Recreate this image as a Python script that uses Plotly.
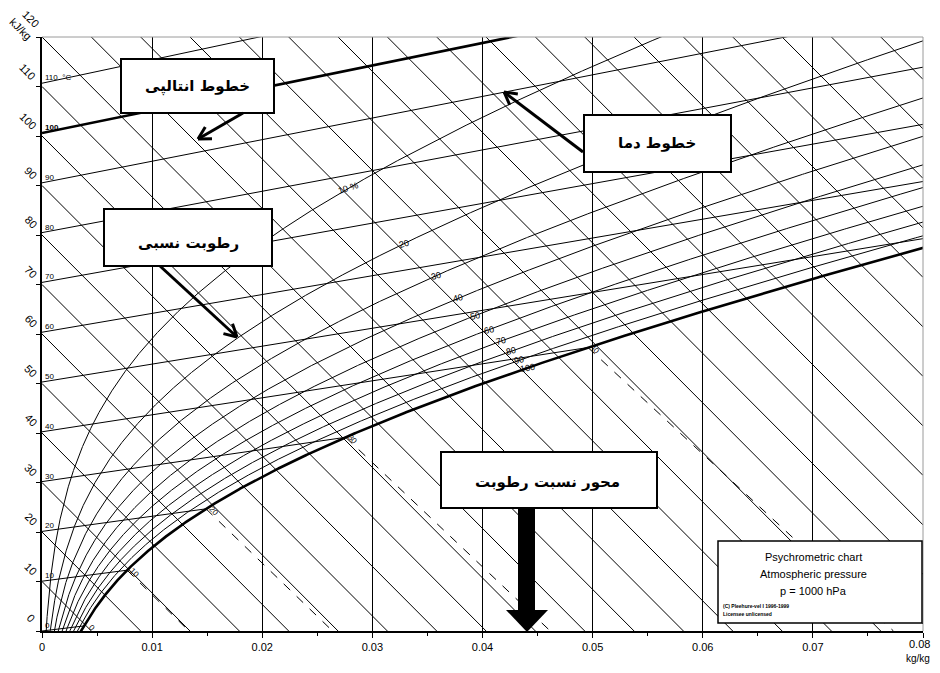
import numpy as np
import plotly.graph_objects as go

# ---------------- chart parameters ----------------
PRESSURE_HPA = 1000.0          # p = 1000 hPa
SKEW = 2232.0                  # ordinate = h - SKEW * x  (Mollier skew)

isotherm_temps = [0, 10, 20, 30, 40, 50, 60, 70, 80, 90, 100, 110]
isotherm_labels = ["0", "10", "20", "30", "40", "50", "60", "70", "80", "90", "100", "110  °C"]
bold_isotherm = 100
rh_levels = [10, 20, 30, 40, 50, 60, 70, 80, 90]
rh_labels = ["10 %", "20", "30", "40", "50", "60", "70", "80", "90", "100"]
rh_label_enthalpy = 151.5
enthalpy_levels = [10, 20, 30, 40, 50, 60, 70, 80, 90, 100, 110, 120, 130, 140, 150,
                   160, 170, 180, 190, 200, 210, 220, 230, 240, 250, 260, 270, 280, 290]
fog_temps = [10, 20, 30, 40]
sat_label_temps = [0, 10, 20, 30, 40]
sat_labels = ["0", "10", "20", "30", "40"]

x_tickvals = [0, 0.01, 0.02, 0.03, 0.04, 0.05, 0.06, 0.07, 0.08]
x_ticktext = ["0", "0.01", "0.02", "0.03", "0.04", "0.05", "0.06", "0.07", "0.08"]
x_minor = [0.005, 0.015, 0.025, 0.035, 0.045, 0.055, 0.065, 0.075]
y_tickvals = [0, 10, 20, 30, 40, 50, 60, 70, 80, 90, 100, 110, 120]
y_ticktext = ["0", "10", "20", "30", "40", "50", "60", "70", "80", "90", "100", "110", "120<br>kJ/kg"]

XMAX, YMAX = 0.08, 120.0

# ---------------- layout geometry ----------------
# the page body has an 8 px margin on every side; the figure is made 16 px smaller
# than the window so that it fits exactly, and window pixels are mapped with that offset.
OFF = 8
WIN_W, WIN_H = 940, 673
W, H = WIN_W - 2 * OFF, WIN_H - 2 * OFF
PL, PR, PT, PB = 42, 923, 37, 631          # plot area in window pixels
ML, MT = PL - OFF, PT - OFF
MR, MB = W - (PR - OFF), H - (PB - OFF)
PW, PH = PR - PL, PB - PT


def px2paper(px, py):
    return (px - PL) / PW, (PB - py) / PH


def data2px(x, y):
    return PL + x / XMAX * PW, PB - y / YMAX * PH


# ---------------- psychrometrics ----------------
def p_sat(t):
    t = np.asarray(t, dtype=float)
    water = 6.1121 * np.exp((18.678 - t / 234.5) * (t / (257.14 + t)))
    ice = 6.1115 * np.exp((23.036 - t / 333.7) * (t / (279.82 + t)))
    return np.where(t >= 0, water, ice)


def hum_ratio(pv):
    return 0.622 * pv / (PRESSURE_HPA - pv)


def enthalpy(t, x):
    return 1.006 * t + x * (2501.0 + 1.86 * t)


def ordinate(t, x):
    return enthalpy(t, x) - SKEW * x


fig = go.Figure()


def add_line(x, y, width=1, dash="solid"):
    fig.add_trace(go.Scatter(x=list(x), y=list(y), mode="lines",
                             line=dict(color="black", width=width, dash=dash),
                             hoverinfo="skip", showlegend=False))


# isenthalps
for h in enthalpy_levels:
    xs = np.array([0.0, XMAX])
    add_line(xs, h - SKEW * xs)

# isotherms (unsaturated part)
for t in isotherm_temps:
    ps = float(p_sat(t))
    x_end = XMAX
    if ps < PRESSURE_HPA:
        x_end = min(XMAX, hum_ratio(ps))
    xs = np.array([0.0, x_end])
    add_line(xs, ordinate(t, xs), width=2.6 if t == bold_isotherm else 1)

# fog isotherms (dashed)
for t in fog_temps:
    xs0 = float(hum_ratio(p_sat(t)))
    y0 = float(ordinate(t, xs0))
    slope = 4.19 * t - SKEW
    x1 = min(XMAX, xs0 + y0 / (-slope))
    add_line([xs0, x1], [y0, y0 + slope * (x1 - xs0)], dash="dash")

# relative humidity curves
t_grid = np.arange(-4.0, 99.95, 0.05)
ps_grid = p_sat(t_grid)
rh_curves = []
for phi in rh_levels + [100]:
    pv = phi / 100.0 * ps_grid
    ok = pv < 0.97 * PRESSURE_HPA
    tt = t_grid[ok]
    xx = hum_ratio(pv[ok])
    yy = ordinate(tt, xx)
    keep = (xx <= 0.0805) & (yy <= 122)
    tt, xx, yy = tt[keep], xx[keep], yy[keep]
    rh_curves.append((tt, xx, yy))
    add_line(xx, yy, width=2.6 if phi == 100 else 1)

annotations = []

# RH labels along an isenthalp
for (tt, xx, yy), lab in zip(rh_curves, rh_labels):
    hh = enthalpy(tt, xx)
    i = int(np.searchsorted(hh, rh_label_enthalpy))
    i = max(1, min(i, len(hh) - 2))
    xl = float(np.interp(rh_label_enthalpy, hh, xx))
    yl = float(np.interp(rh_label_enthalpy, hh, yy))
    p0 = data2px(xx[i - 1], yy[i - 1])
    p1 = data2px(xx[i + 1], yy[i + 1])
    ang = np.degrees(np.arctan2(p1[1] - p0[1], p1[0] - p0[0]))
    annotations.append(dict(x=xl, y=yl, xref="x", yref="y", text=lab, showarrow=False,
                            textangle=float(ang) * 0.6,
                            font=dict(size=9, family="Liberation Sans", color="black"),
                            xanchor="center", yanchor="middle"))

# saturation temperature labels
for t, lab in zip(sat_label_temps, sat_labels):
    xs0 = float(hum_ratio(p_sat(t)))
    y0 = float(ordinate(t, xs0))
    annotations.append(dict(x=xs0, y=y0, xref="x", yref="y", text=lab, showarrow=False,
                            xshift=7, yshift=-2, textangle=45,
                            font=dict(size=8, family="Liberation Sans", color="black")))

# isotherm labels at the left edge
for t, lab in zip(isotherm_temps, isotherm_labels):
    txt = "<b>%s</b>" % lab if t == bold_isotherm else lab
    annotations.append(dict(x=0, y=float(ordinate(t, 0.0)), xref="x", yref="y", text=txt,
                            showarrow=False, xanchor="left", yanchor="bottom", xshift=1, yshift=-1,
                            font=dict(size=8, family="Liberation Sans", color="black")))

# left axis labels (rotated)
for v, lab in zip(y_tickvals, y_ticktext):
    if v == 120:
        xs_, ys_ = -16, 13
    elif v >= 100:
        xs_, ys_ = -14, 15
    else:
        xs_, ys_ = -11, 13
    annotations.append(dict(x=0, y=v, xref="x", yref="y", text=lab, showarrow=False,
                            xshift=xs_, yshift=ys_, textangle=45,
                            xanchor="center", yanchor="middle",
                            font=dict(size=11, family="Liberation Sans", color="black")))

# last x tick label and axis unit (drawn as annotations so they are not dropped at the edge)
TICKFONT = dict(size=11, family="Liberation Sans", color="black")
lx, ly = px2paper(932, 644)
annotations.append(dict(x=lx, y=ly, xref="paper", yref="paper", text=x_ticktext[-1],
                        showarrow=False, xanchor="right", yanchor="middle", font=TICKFONT))
ux, uy = px2paper(932, 666)
annotations.append(dict(x=ux, y=uy, xref="paper", yref="paper", text="kg/kg", showarrow=False,
                        xanchor="right", yanchor="bottom",
                        font=dict(size=10, family="Liberation Sans", color="black")))
shown_ticktext = x_ticktext[:-1] + [""]

shapes = []

# grey top/right frame
shapes.append(dict(type="line", xref="paper", yref="paper", x0=0, x1=1, y0=1, y1=1,
                   line=dict(color="#9a9a9a", width=1), layer="above"))
shapes.append(dict(type="line", xref="paper", yref="paper", x0=1, x1=1, y0=0, y1=1,
                   line=dict(color="#9a9a9a", width=1), layer="above"))


def box(px0, py0, px1, py1, width=2):
    a = px2paper(px0, py1)
    b = px2paper(px1, py0)
    shapes.append(dict(type="rect", xref="paper", yref="paper", x0=a[0], y0=a[1], x1=b[0], y1=b[1],
                       fillcolor="white", line=dict(color="black", width=width), layer="above"))


def text_at(px, py, txt, size, family="DejaVu Sans", xanchor="center"):
    x, y = px2paper(px, py)
    annotations.append(dict(x=x, y=y, xref="paper", yref="paper", text=txt, showarrow=False,
                            xanchor=xanchor, yanchor="middle",
                            font=dict(size=size, family=family, color="black")))


def arrow(tx, ty, hx, hy, width=3, head=14):
    a = px2paper(tx, ty)
    b = px2paper(hx, hy)
    shapes.append(dict(type="line", xref="paper", yref="paper", x0=a[0], y0=a[1], x1=b[0], y1=b[1],
                       line=dict(color="black", width=width), layer="above"))
    ang = np.arctan2(ty - hy, tx - hx)
    for d in (0.5, -0.5):
        ex = hx + head * np.cos(ang + d)
        ey = hy + head * np.sin(ang + d)
        e = px2paper(ex, ey)
        shapes.append(dict(type="line", xref="paper", yref="paper", x0=b[0], y0=b[1], x1=e[0], y1=e[1],
                           line=dict(color="black", width=width), layer="above"))


# Persian annotation boxes
box(121, 59, 274, 113)
text_at(197, 87, "<b>خطوط انتالپی</b>", 15)
arrow(243, 113, 198, 139)

box(584, 115, 731, 172)
text_at(657, 143, "<b>خطوط دما</b>", 15)
arrow(583, 152, 504, 92)

box(104, 209, 272, 266)
text_at(188, 243, "<b>رطوبت نسبی</b>", 15)
arrow(160, 266, 237, 337)

box(441, 452, 657, 508)
text_at(547, 482, "<b>محور نسبت رطوبت</b>", 15)
# thick down arrow
a = px2paper(518, 508)
b = px2paper(535, 611)
shapes.append(dict(type="rect", xref="paper", yref="paper", x0=a[0], y0=b[1], x1=b[0], y1=a[1],
                   fillcolor="black", line=dict(color="black", width=0), layer="above"))
p1 = px2paper(506, 610)
p2 = px2paper(548, 610)
p3 = px2paper(527, 632)
shapes.append(dict(type="path", xref="paper", yref="paper",
                   path="M %f %f L %f %f L %f %f Z" % (p1[0], p1[1], p2[0], p2[1], p3[0], p3[1]),
                   fillcolor="black", line=dict(color="black", width=0), layer="above"))

# info box bottom-right
box(718, 541, 922, 623, width=1.5)
text_at(813, 557, "Psychrometric chart", 11, family="Liberation Sans")
text_at(813, 574, "Atmospheric pressure", 11, family="Liberation Sans")
text_at(813, 591, "p = 1000 hPa", 11, family="Liberation Sans")
text_at(721, 606, "<b>(C) Pleehure-vel I 1996-1999</b>", 5, family="Liberation Sans", xanchor="left")
text_at(721, 614, "<b>Licensee unlicensed</b>", 5, family="Liberation Sans", xanchor="left")

fig.update_layout(
    width=W, height=H,
    margin=dict(l=ML, r=MR, t=MT, b=MB),
    paper_bgcolor="white", plot_bgcolor="white",
    showlegend=False,
    annotations=annotations,
    shapes=shapes,
    xaxis=dict(range=[0, XMAX], tickvals=x_tickvals, ticktext=shown_ticktext,
               showgrid=True, gridcolor="black", gridwidth=1, zeroline=False,
               showline=True, linecolor="black", linewidth=2,
               ticks="outside", ticklen=5, tickcolor="black", tickwidth=1,
               tickfont=TICKFONT,
               minor=dict(tickvals=x_minor, ticks="outside", ticklen=3, tickcolor="black",
                          showgrid=False)),
    yaxis=dict(range=[0, YMAX], tickvals=y_tickvals, showticklabels=False,
               showgrid=False, zeroline=False,
               showline=True, linecolor="black", linewidth=1.5,
               ticks="outside", ticklen=4, tickcolor="black"),
)

fig.write_html("out.html")
